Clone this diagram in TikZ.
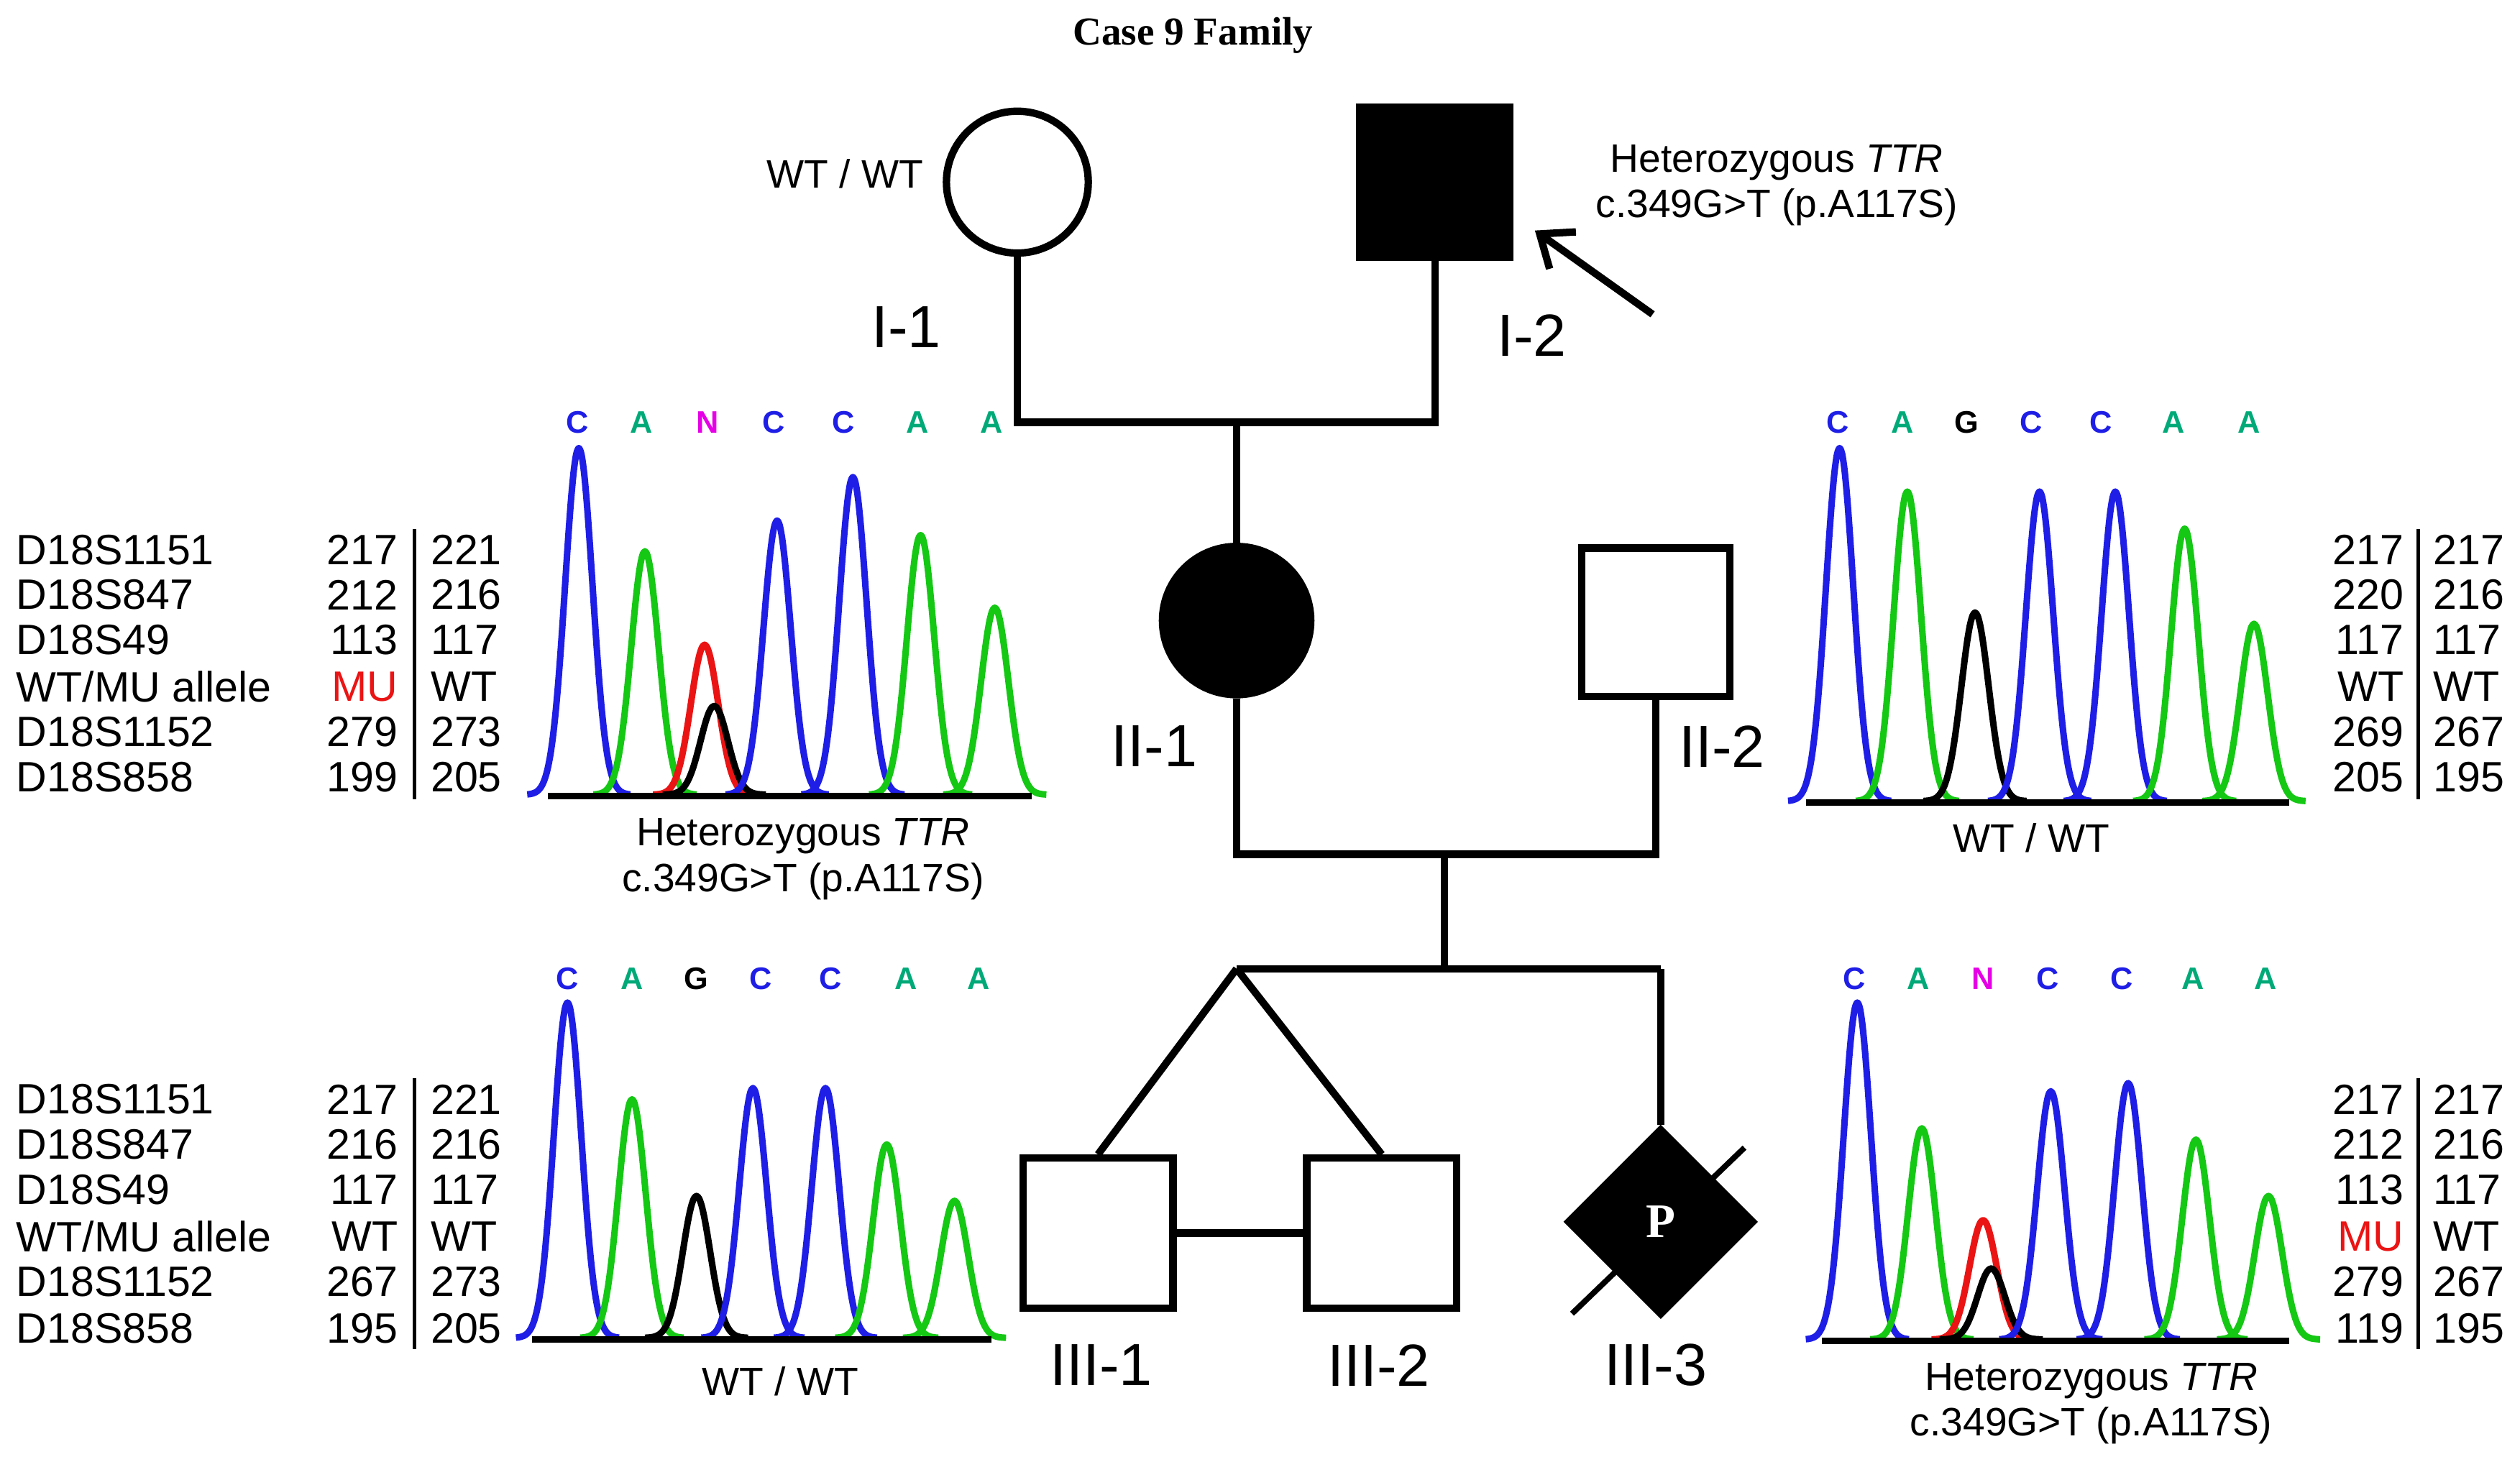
\documentclass[tikz,border=0pt]{standalone}
\usepackage{fontspec}
\setmainfont{Liberation Sans}
\newfontfamily\serifb{Liberation Serif}
\usetikzlibrary{shapes.geometric,arrows.meta}
\definecolor{pb}{RGB}{30,30,230}
\definecolor{pg}{RGB}{20,200,20}
\definecolor{pr}{RGB}{235,20,20}
\definecolor{pm}{RGB}{230,0,230}
\definecolor{lg}{RGB}{0,170,120}
\newcommand\pk[4]{\draw[#4,line width=2.3pt,line join=round] plot[domain=-32:32,samples=41,smooth] ({#1+\x},{#3-(#3-#2)*exp(-(\x/12)^2)});}
\newcommand\bl[3]{\draw[black,line width=2.2pt] (#1,#3)--(#2,#3);}
\newcommand\lt[4]{\node[text=#4,font=\fontsize{11}{11}\selectfont\bfseries] at (#1,#2) {#3};}
\newcommand\rowL[5]{\node[anchor=west,font=\fontsize{15}{15}\selectfont] at (4,#1) {#2};
 \node[anchor=east,font=\fontsize{15}{15}\selectfont] at (253,#1) {#3};
 \node[anchor=west,font=\fontsize{15}{15}\selectfont] at (261,#1) {#4};}
\newcommand\rowR[3]{\node[anchor=east,font=\fontsize{15}{15}\selectfont] at (1497,#1) {#2};
 \node[anchor=west,font=\fontsize{15}{15}\selectfont] at (1503,#1) {#3};}
\tikzset{ped/.style={draw=black,line width=2.6pt},
 lab/.style={font=\fontsize{21}{21}\selectfont},
 txt/.style={font=\fontsize{14}{16}\selectfont,align=center},
 ln/.style={line width=2.6pt}}
\begin{document}
\begin{tikzpicture}[x=0.02cm,y=-0.02cm]
\useasboundingbox (0,0) rectangle (1563,906.6);
\node[font=\serifb\bfseries\fontsize{14}{14}\selectfont] (title) at (740,22) {Case 9 Family};
% generation I
\node[ped,circle,minimum size=88*0.02cm,inner sep=0] (I1) at (631,113) {};
\node[ped,fill=black,minimum size=93*0.02cm,inner sep=0] (I2) at (890,113) {};
\node[txt] (wt1) at (524,108) {WT / WT};
\node[lab] (lI1) at (562,203) {I-1};
\node[lab] (lI2) at (950,208) {I-2};
\node[txt] (h1) at (1102,115) {Heterozygous \textit{TTR}\\c.349G>T (p.A117S)};
\coordinate (arS) at (1025,195);
\draw[ln,-{Straight Barb[length=10pt,width=16pt]}] (arS) -- (952,143);
\coordinate (a1) at (631,262); \coordinate (a2) at (890,262); \coordinate (a3) at (767,262);
\draw[ln] (I1.south) -- (a1) -- (a2) -- (I2.south);
% generation II
\node[ped,circle,fill=black,minimum size=92*0.02cm,inner sep=0] (II1) at (767,385) {};
\node[ped,minimum size=92*0.02cm,inner sep=0] (II2) at (1027,386) {};
\draw[ln] (a3) -- (II1.north);
\node[lab] (lII1) at (716,463) {II-1};
\node[lab] (lII2) at (1068,463) {II-2};
\coordinate (b1) at (767,530); \coordinate (b2) at (1027,530); \coordinate (b3) at (896,530);
\draw[ln] (II1.south) -- (b1) -- (b2) -- (II2.south);
\coordinate (c0) at (896,601); \coordinate (c1) at (767,601); \coordinate (c2) at (1030,601);
\draw[ln] (b3) -- (c0); \draw[ln] (c1) -- (c2);
% generation III
\node[ped,minimum size=93*0.02cm,inner sep=0] (III1) at (681,765) {};
\node[ped,minimum size=93*0.02cm,inner sep=0] (III2) at (857,765) {};
\node[ped,diamond,fill=black,minimum size=116*0.02cm,inner sep=0] (III3) at (1030,758) {};
\draw[ln] (c1) -- (III1.north); \draw[ln] (c1) -- (III2.north);
\draw[ln] (c2) -- (III3.north);
\draw[ln] (III1.east) -- (III2.west);
\draw[line width=2pt] (975,815) -- (1082,712);
\node[text=white,font=\serifb\bfseries\fontsize{17}{17}\selectfont] (P) at (III3.center) {P};
\node[lab] (lIII1) at (683,847) {III-1};
\node[lab] (lIII2) at (855,847) {III-2};
\node[lab] (lIII3) at (1027,847) {III-3};
% panel A
\lt{358}{262}{C}{pb}\lt{398}{262}{A}{lg}\lt{439}{262}{N}{pm}\lt{480}{262}{C}{pb}\lt{523}{262}{C}{pb}\lt{569}{262}{A}{lg}\lt{615}{262}{A}{lg}
\pk{359}{278}{493}{pb}\pk{400}{342}{493}{pg}\pk{437}{400}{493}{pr}\pk{443}{438}{493}{black}\pk{482}{323}{493}{pb}\pk{529}{296}{493}{pb}\pk{571}{332}{493}{pg}\pk{617}{377}{493}{pg}
\bl{340}{640}{494}
\node[txt] (capA) at (498,533) {Heterozygous \textit{TTR}\\c.349G>T (p.A117S)};
\rowL{341}{D18S1151}{217}{221}{}\rowL{369}{D18S847}{212}{216}{}\rowL{397}{D18S49}{113}{117}{}
\node[anchor=west,font=\fontsize{15}{15}\selectfont] at (4,426) {WT/MU allele};
\node[anchor=east,font=\fontsize{15}{15}\selectfont,text=pr] at (253,426) {MU};
\node[anchor=west,font=\fontsize{15}{15}\selectfont] at (261,426) {WT};
\rowL{454}{D18S1152}{279}{273}{}\rowL{482}{D18S858}{199}{205}{}
\draw[line width=1.3pt] (257,328) -- (257,496);
% panel B
\lt{1140}{262}{C}{pb}\lt{1180}{262}{A}{lg}\lt{1220}{262}{G}{black}\lt{1260}{262}{C}{pb}\lt{1303}{262}{C}{pb}\lt{1348}{262}{A}{lg}\lt{1395}{262}{A}{lg}
\pk{1141}{278}{497}{pb}\pk{1183}{305}{497}{pg}\pk{1225}{380}{497}{black}\pk{1265}{305}{497}{pb}\pk{1312}{305}{497}{pb}\pk{1355}{328}{497}{pg}\pk{1398}{387}{497}{pg}
\bl{1120}{1420}{498}
\node[txt] (capB) at (1260,520) {WT / WT};
\rowR{341}{217}{217}\rowR{369}{220}{216}\rowR{397}{117}{117}\rowR{426}{WT}{WT}\rowR{454}{269}{267}\rowR{482}{205}{195}
\draw[line width=1.3pt] (1500,328) -- (1500,496);
% panel C
\lt{352}{607}{C}{pb}\lt{392}{607}{A}{lg}\lt{432}{607}{G}{black}\lt{472}{607}{C}{pb}\lt{515}{607}{C}{pb}\lt{562}{607}{A}{lg}\lt{607}{607}{A}{lg}
\pk{352}{622}{830}{pb}\pk{392}{682}{830}{pg}\pk{432}{742}{830}{black}\pk{467}{675}{830}{pb}\pk{512}{675}{830}{pb}\pk{550}{710}{830}{pg}\pk{592}{745}{830}{pg}
\bl{330}{615}{831}
\node[txt] (capC) at (484,857) {WT / WT};
\rowL{682}{D18S1151}{217}{221}{}\rowL{710}{D18S847}{216}{216}{}\rowL{738}{D18S49}{117}{117}{}\rowL{767}{WT/MU allele}{WT}{WT}{}\rowL{795}{D18S1152}{267}{273}{}\rowL{824}{D18S858}{195}{205}{}
\draw[line width=1.3pt] (257,669) -- (257,837);
% panel D
\lt{1150}{607}{C}{pb}\lt{1190}{607}{A}{lg}\lt{1230}{607}{N}{pm}\lt{1270}{607}{C}{pb}\lt{1316}{607}{C}{pb}\lt{1360}{607}{A}{lg}\lt{1405}{607}{A}{lg}
\pk{1152}{622}{831}{pb}\pk{1192}{700}{831}{pg}\pk{1230}{757}{831}{pr}\pk{1235}{787}{831}{black}\pk{1272}{677}{831}{pb}\pk{1320}{672}{831}{pb}\pk{1362}{707}{831}{pg}\pk{1407}{742}{831}{pg}
\bl{1130}{1420}{832}
\node[txt] (capD) at (1297,871) {Heterozygous \textit{TTR}\\c.349G>T (p.A117S)};
\rowR{682}{217}{217}\rowR{710}{212}{216}\rowR{738}{113}{117}
\node[anchor=east,font=\fontsize{15}{15}\selectfont,text=pr] at (1497,767) {MU};
\node[anchor=west,font=\fontsize{15}{15}\selectfont] at (1503,767) {WT};
\rowR{795}{279}{267}\rowR{824}{119}{195}
\draw[line width=1.3pt] (1500,669) -- (1500,837);
\end{tikzpicture}
\end{document}
